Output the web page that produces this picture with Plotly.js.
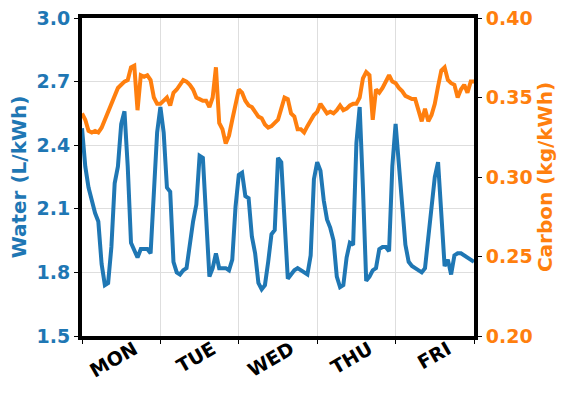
<!DOCTYPE html>
<html>
<head>
<meta charset="utf-8">
<script src="https://cdn.plot.ly/plotly-3.0.1.min.js"></script>
<style>
  html, body { margin: 0; padding: 0; background: #fff; }
  #graph { width: 570px; height: 396px; }
</style>
</head>
<body>
<div id="graph"></div>
<script>
// Horas desde el lunes 00:00 (5 días)
const hours = Array.from({ length: 121 }, (_, i) => i);

const water = [
  2.48, 2.30, 2.20, 2.13, 2.08, 2.04, 1.84, 1.74, 1.75, 1.92, 2.22, 2.30,
  2.50, 2.56, 2.30, 1.94, 1.90, 1.87, 1.91, 1.91, 1.91, 1.89, 2.20, 2.46,
  2.58, 2.46, 2.20, 2.18, 1.85, 1.80, 1.79, 1.81, 1.82, 1.95, 2.04, 2.12,
  2.35, 2.34, 2.05, 1.78, 1.82, 1.89, 1.82, 1.82, 1.82, 1.81, 1.86, 2.11,
  2.26, 2.27, 2.16, 2.15, 1.97, 1.89, 1.75, 1.72, 1.74, 1.85, 1.98, 2.00,
  2.34, 2.32, 2.00, 1.77, 1.79, 1.81, 1.82, 1.81, 1.80, 1.79, 1.88, 2.24,
  2.32, 2.28, 2.14, 2.05, 2.01, 1.95, 1.78, 1.73, 1.74, 1.87, 1.94, 1.93,
  2.41, 2.58, 2.20, 1.76, 1.78, 1.81, 1.82, 1.91, 1.92, 1.92, 1.90, 2.30,
  2.50, 2.30, 2.09, 1.93, 1.85, 1.83, 1.82, 1.81, 1.80, 1.82, 1.96, 2.14,
  2.25, 2.32, 2.08, 1.83, 1.86, 1.79, 1.88, 1.89, 1.89, 1.88, 1.87, 1.86,
  1.85
];

// Carbono (kg/kWh)
const carbon = [
  0.340, 0.336, 0.329, 0.328, 0.329, 0.328, 0.331, 0.336, 0.341, 0.346, 0.351, 0.356,
  0.358, 0.360, 0.361, 0.369, 0.370, 0.342, 0.364, 0.363, 0.364, 0.361, 0.350, 0.346,
  0.346, 0.348, 0.350, 0.345, 0.353, 0.355, 0.358, 0.361, 0.360, 0.358, 0.355, 0.350,
  0.349, 0.348, 0.348, 0.344, 0.350, 0.369, 0.334, 0.330, 0.321, 0.326, 0.336, 0.346,
  0.355, 0.353, 0.348, 0.345, 0.344, 0.341, 0.338, 0.337, 0.333, 0.331, 0.332, 0.334,
  0.336, 0.343, 0.350, 0.349, 0.340, 0.338, 0.330, 0.330, 0.328, 0.332, 0.336, 0.339,
  0.341, 0.346, 0.343, 0.340, 0.341, 0.340, 0.342, 0.345, 0.342, 0.343, 0.345, 0.346,
  0.346, 0.350, 0.362, 0.366, 0.364, 0.336, 0.355, 0.353, 0.356, 0.360, 0.364, 0.360,
  0.359, 0.356, 0.354, 0.351, 0.350, 0.349, 0.349, 0.342, 0.335, 0.343, 0.335, 0.339,
  0.346, 0.357, 0.367, 0.369, 0.361, 0.359, 0.358, 0.350, 0.355, 0.358, 0.353, 0.360,
  0.360
];

// Etiquetas de días (a mediodía) y límites de día
const dayLabels = ["MON", "TUE", "WED", "THU", "FRI"];
const dayCenters = [12, 36, 60, 84, 108];
const dayBounds = [0, 24, 48, 72, 96, 120];

const blue = "#1f77b4";
const orange = "#ff7f0e";
const font = "DejaVu Sans, Liberation Sans, sans-serif";

const traceWater = {
  x: hours, y: water,
  mode: "lines", type: "scatter",
  line: { color: blue, width: 4 },
  yaxis: "y", hoverinfo: "skip"
};

const traceCarbon = {
  x: hours, y: carbon,
  mode: "lines", type: "scatter",
  line: { color: orange, width: 4 },
  yaxis: "y2", hoverinfo: "skip"
};

const layout = {
  width: 570, height: 396,
  margin: { l: 82, r: 96, t: 18, b: 60 },
  paper_bgcolor: "#fff", plot_bgcolor: "#fff",
  showlegend: false,
  font: { family: font },
  xaxis: {
    range: [0, 120],
    tickmode: "array", tickvals: dayCenters, ticktext: dayLabels,
    tickangle: -30, ticks: "",
    ticklabelshift: 13, ticklabelstandoff: -9,
    tickfont: { size: 19, color: "#000", weight: "bold" },
    showgrid: false, zeroline: false,
    showline: true, linecolor: "#000", linewidth: 4, mirror: true,
    minor: {
      tickmode: "array", tickvals: dayBounds,
      ticks: "outside", ticklen: 4, tickcolor: "#000", tickwidth: 1,
      showgrid: true, gridcolor: "#dedede", gridwidth: 1
    }
  },
  yaxis: {
    range: [1.5, 3.0],
    tickmode: "array", tickvals: [1.5, 1.8, 2.1, 2.4, 2.7, 3.0],
    ticktext: ["1.5", "1.8", "2.1", "2.4", "2.7", "3.0"],
    ticks: "outside", ticklen: 4, tickcolor: "#000",
    tickfont: { size: 19, color: blue, weight: "bold" },
    title: { text: "Water (L/kWh)", font: { size: 20, color: blue, weight: "bold" }, standoff: 6 },
    showgrid: true, gridcolor: "#dedede", gridwidth: 1, zeroline: false,
    showline: true, linecolor: "#000", linewidth: 4
  },
  yaxis2: {
    range: [0.20, 0.40],
    overlaying: "y", side: "right",
    tickmode: "array", tickvals: [0.20, 0.25, 0.30, 0.35, 0.40],
    ticktext: ["0.20", "0.25", "0.30", "0.35", "0.40"],
    ticks: "outside", ticklen: 4, tickcolor: "#000",
    tickfont: { size: 19, color: orange, weight: "bold" },
    title: { text: "Carbon (kg/kWh)", font: { size: 20, color: orange, weight: "bold" }, standoff: 6 },
    showgrid: false, zeroline: false,
    showline: true, linecolor: "#000", linewidth: 4
  }
};

Plotly.newPlot("graph", [traceWater, traceCarbon], layout, { staticPlot: true, displayModeBar: false });
</script>
</body>
</html>
